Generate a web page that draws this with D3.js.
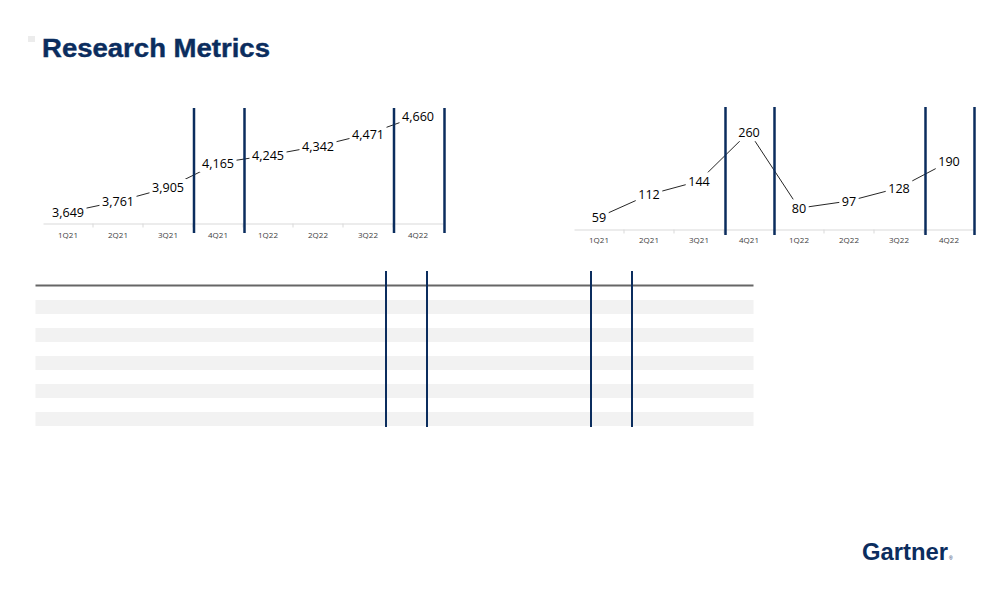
<!DOCTYPE html>
<html>
<head>
<meta charset="utf-8">
<script src="https://cdn.jsdelivr.net/npm/d3@7"></script>
<style>
  html, body { margin: 0; padding: 0; background: #ffffff; }
  svg { display: block; }
</style>
</head>
<body>
<svg id="chart" width="1008" height="612"></svg>
<script>
// ---------- DATA ----------
const quarters = ["1Q21", "2Q21", "3Q21", "4Q21", "1Q22", "2Q22", "3Q22", "4Q22"];
const leftValues = [3649, 3761, 3905, 4165, 4245, 4342, 4471, 4660];
const rightValues = [59, 112, 144, 260, 80, 97, 128, 190];
const highlightQuarters = ["4Q21", "4Q22"];
const tableRowCount = 10;          // body rows (alternate rows striped)
const tableDataColumns = ["c1", "c2", "c3", "c4", "c5", "c6", "c7", "c8", "c9", "c10"];
const tableHighlightColumns = ["c2", "c7"];
const titleText = "Research Metrics";
const logoText = "Gartner";

// ---------- STYLE ----------
const NAVY = "#0b2d5e";
const svg = d3.select("#chart");

// Title
svg.append("rect").attr("x", 28).attr("y", 36).attr("width", 7).attr("height", 6).attr("fill", "#ececec");
svg.append("text")
  .attr("x", 42).attr("y", 57)
  .attr("font-family", "Liberation Sans, Arial, sans-serif")
  .attr("font-weight", "bold").attr("font-size", 25)
  .attr("fill", NAVY)
  .attr("stroke", NAVY).attr("stroke-width", 0.4)
  .attr("textLength", 228).attr("lengthAdjust", "spacingAndGlyphs")
  .text(titleText);

// ---------- LINE CHART FUNCTION ----------
function lineChart(cfg) {
  const g = svg.append("g");
  const x = d3.scaleBand().domain(quarters).range([cfg.x0, cfg.x1]);
  const y = d3.scaleLinear().domain(cfg.yDomain).range(cfg.yRange);

  // axis
  const axis = d3.axisBottom(x).tickSize(0).tickPadding(0);
  const ag = g.append("g").attr("transform", `translate(0,${cfg.axisY})`).call(axis);
  ag.select(".domain").attr("stroke", "#d9d9d9").attr("stroke-width", 1);
  ag.selectAll("text")
    .attr("font-family", "Open Sans, sans-serif").attr("font-size", 8)
    .attr("fill", "#404040").attr("dy", null).attr("y", cfg.labelDy);
  // category separators
  g.selectAll("line.sep").data(quarters.slice(1)).join("line")
    .attr("x1", d => x(d)).attr("x2", d => x(d))
    .attr("y1", cfg.axisY).attr("y2", cfg.axisY + 4)
    .attr("stroke", "#d9d9d9").attr("stroke-width", 1);

  const pts = quarters.map((q, i) => ({ q, v: cfg.values[i], px: x(q) + x.bandwidth() / 2, py: y(cfg.values[i]) }));

  // line
  g.append("path").datum(pts)
    .attr("d", d3.line().x(d => d.px).y(d => d.py))
    .attr("fill", "none").attr("stroke", "#262626").attr("stroke-width", 1);

  // labels with white background
  const fmt = d3.format(",");
  const lg = g.selectAll("g.lbl").data(pts).join("g").attr("transform", d => `translate(${d.px},${d.py})`);
  const txt = lg.append("text")
    .attr("text-anchor", "middle").attr("y", 4.7)
    .attr("font-family", "Open Sans, sans-serif").attr("font-size", 12.6)
    .attr("fill", "#000").text(d => fmt(d.v));
  txt.each(function () {
    const b = this.getBBox();
    d3.select(this.parentNode).insert("rect", "text")
      .attr("x", b.x - 2.5).attr("y", b.y - 0.5)
      .attr("width", b.width + 5).attr("height", b.height + 1)
      .attr("fill", "#ffffff");
  });

  // highlight vertical lines
  const edges = [];
  highlightQuarters.forEach(q => { edges.push(x(q) + cfg.edgeOff[0]); edges.push(x(q) + x.bandwidth() + cfg.edgeOff[1]); });
  g.selectAll("line.hl").data(edges).join("line")
    .attr("x1", d => d).attr("x2", d => d)
    .attr("y1", cfg.hlTop).attr("y2", cfg.hlBottom)
    .attr("stroke", NAVY).attr("stroke-width", 2.5);
}

lineChart({
  x0: 43, x1: 443, values: leftValues,
  yDomain: [3500, 4800], yRange: [226.2, 102.7],
  axisY: 223.5, labelDy: 14.5,
  hlTop: 108, hlBottom: 233, edgeOff: [1, 1.5]
});

lineChart({
  x0: 574, x1: 974, values: rightValues,
  yDomain: [0, 300], yRange: [242, 115.1],
  axisY: 229.5, labelDy: 13,
  hlTop: 107, hlBottom: 235, edgeOff: [1.5, 0.5]
});

// ---------- TABLE ----------
const tbl = svg.append("g");
const tX0 = 35.5, tX1 = 753.5, tLabelEnd = 345;
const rowH = 14, headerY = 285.5;
const rows = d3.range(tableRowCount);
const ry = d3.scaleLinear().domain([0, tableRowCount]).range([headerY + 0.5, headerY + 0.5 + rowH * tableRowCount]);
tbl.selectAll("rect.stripe").data(rows.filter(r => r % 2 === 1)).join("rect")
  .attr("x", tX0).attr("width", tX1 - tX0)
  .attr("y", d => ry(d)).attr("height", rowH)
  .attr("fill", "#f2f2f2");
tbl.append("line")
  .attr("x1", tX0).attr("x2", tX1).attr("y1", headerY).attr("y2", headerY)
  .attr("stroke", "#666666").attr("stroke-width", 2);
const cx = d3.scaleBand().domain(tableDataColumns).range([tLabelEnd, tX1 + 1.5]);
const colEdges = [];
tableHighlightColumns.forEach(c => { colEdges.push(cx(c)); colEdges.push(cx(c) + cx.bandwidth()); });
tbl.selectAll("line.cv").data(colEdges).join("line")
  .attr("x1", d => d).attr("x2", d => d)
  .attr("y1", 271).attr("y2", 427)
  .attr("stroke", NAVY).attr("stroke-width", 2);

// ---------- LOGO ----------
const logo = svg.append("g");
logo.append("text")
  .attr("x", 862).attr("y", 560)
  .attr("font-family", "Liberation Sans, Arial, sans-serif")
  .attr("font-weight", "bold").attr("font-size", 23)
  .attr("fill", NAVY)
  .attr("textLength", 86).attr("lengthAdjust", "spacingAndGlyphs")
  .text(logoText);
logo.append("text")
  .attr("x", 949).attr("y", 560)
  .attr("font-family", "Liberation Sans, Arial, sans-serif")
  .attr("font-size", 5).attr("fill", NAVY)
  .text("®");
</script>
</body>
</html>
